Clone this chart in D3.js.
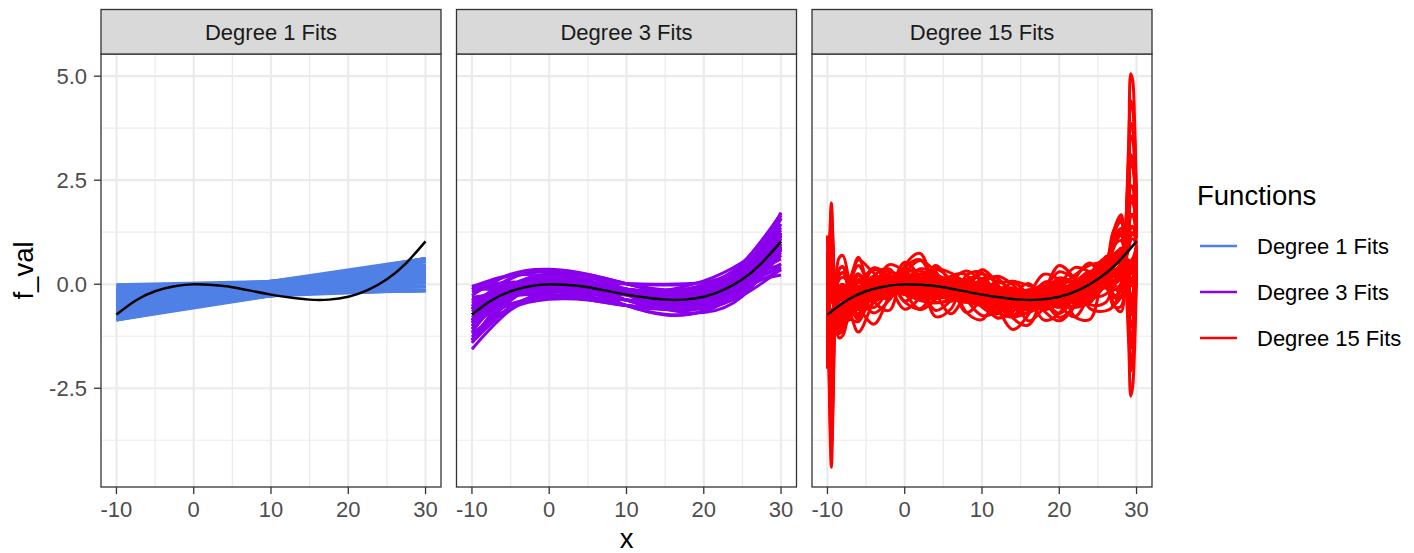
<!DOCTYPE html>
<html>
<head>
<meta charset="utf-8">
<script src="https://cdn.jsdelivr.net/npm/d3@7"></script>
<style>
  body { margin: 0; background: #ffffff; }
  svg { display: block; }
  text { font-family: "Liberation Sans", Arial, Helvetica, sans-serif; }
</style>
</head>
<body>
<svg id="chart" width="1414" height="553"></svg>
<script>
// ---- data -------------------------------------------------------------
const panelTitles = ["Degree 1 Fits", "Degree 3 Fits", "Degree 15 Fits"];
const seriesColors = ["#5080E6", "#8B00EC", "#FF0000"];

const xTicks = [-10, 0, 10, 20, 30];
const xTickLabels = ["-10", "0", "10", "20", "30"];
const xMinorTicks = [-5, 5, 15, 25];
const yTicks = [-2.5, 0, 2.5, 5];
const yTickLabels = ["-2.5", "0.0", "2.5", "5.0"];
const yMinorTicks = [-3.75, -1.25, 1.25, 3.75];

// true function
const truthX = [-10, -7.5, -5, -2.5, 0, 2.5, 5, 7.5, 10, 12.5, 15, 17.5, 20, 22.5, 25, 27.5, 30];
const truthY = [-0.73, -0.39, -0.17, -0.05, 0.00, -0.02, -0.07, -0.16, -0.25, -0.32, -0.37, -0.37, -0.30, -0.14, 0.12, 0.51, 1.03];

// degree 1 fits: value at x = -10 and x = 30
const deg1X = [-10, 30];
const deg1Fits = [
  [-0.42,-0.14],[-0.52,-0.04],[-0.62,0.06],[-0.72,0.16],[-0.82,0.26],[-0.86,0.30],
  [-0.28,-0.16],[-0.38,-0.06],[-0.48,0.04],[-0.58,0.14],[-0.68,0.24],[-0.78,0.34],[-0.86,0.42],
  [-0.16,-0.16],[-0.26,-0.06],[-0.36,0.04],[-0.46,0.14],[-0.56,0.24],[-0.66,0.34],[-0.76,0.44],[-0.86,0.54],
  [-0.06,-0.14],[-0.16,-0.04],[-0.26,0.06],[-0.36,0.16],[-0.46,0.26],[-0.56,0.36],[-0.66,0.46],[-0.76,0.56],[-0.82,0.62],
  [-0.04,-0.04],[-0.14,0.06],[-0.24,0.16],[-0.34,0.26],[-0.44,0.36],[-0.54,0.46],[-0.64,0.56],[-0.70,0.62],
  [-0.02,0.06],[-0.12,0.16],[-0.22,0.26],[-0.32,0.36],[-0.42,0.46],[-0.52,0.56],[-0.58,0.62],
  [-0.01,0.15],[-0.11,0.25],[-0.21,0.35],[-0.31,0.45],[-0.41,0.55],[-0.48,0.62],
  [-0.35,-0.15],[-0.65,0.15],[-0.80,0.30],[-0.21,-0.05],[-0.51,0.25],[-0.71,0.45],[-0.19,0.05],[-0.49,0.35],[-0.76,0.62]
];

// degree 3 fits sampled every 5 units
const deg3X = [-10, -5, 0, 5, 10, 15, 20, 25, 30];
const deg3Fits = [
  [-0.73,-0.17,0.00,-0.07,-0.25,-0.37,-0.30,0.12,1.03],
  [-0.60,-0.04,0.13,0.06,-0.12,-0.24,-0.17,0.25,1.16],
  [-0.86,-0.30,-0.13,-0.20,-0.38,-0.50,-0.43,-0.01,0.90],
  [-0.93,-0.32,-0.10,-0.12,-0.25,-0.32,-0.20,0.27,1.23],
  [-0.53,-0.02,0.10,-0.02,-0.25,-0.42,-0.40,-0.03,0.83],
  [-0.46,-0.08,-0.03,-0.17,-0.38,-0.47,-0.33,0.21,1.30],
  [-1.00,-0.26,0.03,0.03,-0.12,-0.27,-0.27,0.03,0.76],
  [-0.94,-0.15,0.09,0.00,-0.25,-0.44,-0.39,0.10,1.24],
  [-0.52,-0.19,-0.09,-0.14,-0.25,-0.30,-0.21,0.14,0.82],
  [-0.80,-0.19,0.03,0.01,-0.12,-0.19,-0.07,0.40,1.36],
  [-0.66,-0.15,-0.03,-0.15,-0.38,-0.55,-0.53,-0.16,0.70],
  [-0.13,0.20,0.20,0.01,-0.25,-0.39,-0.30,0.19,1.23],
  [-1.33,-0.54,-0.20,-0.15,-0.25,-0.35,-0.30,0.05,0.83],
  [-0.87,-0.21,-0.04,-0.15,-0.38,-0.49,-0.32,0.34,1.71],
  [-0.59,-0.13,0.04,0.01,-0.12,-0.25,-0.28,-0.10,0.35],
  [-1.08,-0.11,0.25,0.23,0.01,-0.21,-0.23,0.14,1.10],
  [-0.38,-0.23,-0.25,-0.37,-0.51,-0.53,-0.37,0.10,0.96],
  [-0.12,0.03,0.01,-0.11,-0.25,-0.27,-0.11,0.36,1.22],
  [-1.34,-0.37,-0.01,-0.03,-0.25,-0.47,-0.49,-0.12,0.84],
  [-0.92,-0.49,-0.29,-0.24,-0.25,-0.20,-0.01,0.44,1.22],
  [-0.54,0.15,0.29,0.10,-0.25,-0.54,-0.59,-0.20,0.84],
  [-0.61,0.13,0.32,0.18,-0.12,-0.36,-0.36,0.08,1.17],
  [-0.85,-0.47,-0.32,-0.32,-0.38,-0.38,-0.24,0.16,0.89],
  [-0.19,0.01,-0.06,-0.27,-0.51,-0.57,-0.36,0.30,1.57],
  [-1.27,-0.35,0.06,0.13,0.01,-0.17,-0.24,-0.06,0.49],
  [-0.86,-0.30,-0.03,0.04,0.01,-0.02,0.05,0.33,0.88],
  [-0.60,-0.04,0.03,-0.18,-0.51,-0.72,-0.65,-0.09,1.18],
  [-1.35,-0.28,0.08,0.02,-0.25,-0.46,-0.38,0.23,1.65],
  [-0.11,-0.06,-0.08,-0.16,-0.25,-0.28,-0.22,0.01,0.41],
  [-0.27,0.24,0.36,0.24,0.01,-0.16,-0.14,0.23,1.09],
  [-1.19,-0.58,-0.36,-0.38,-0.51,-0.58,-0.46,0.01,0.97],
  [-0.45,-0.17,-0.02,0.02,0.01,0.00,0.04,0.20,0.47],
  [-1.01,-0.17,0.02,-0.16,-0.51,-0.74,-0.64,0.04,1.59],
  [-1.40,-0.56,-0.17,-0.07,-0.12,-0.17,-0.07,0.33,1.16],
  [-0.06,0.22,0.17,-0.07,-0.38,-0.57,-0.53,-0.09,0.90],
  [-0.11,-0.14,-0.18,-0.23,-0.25,-0.15,0.08,0.53,1.21],
  [-1.35,-0.20,0.18,0.09,-0.25,-0.59,-0.68,-0.29,0.85],
  [-0.88,-0.04,0.25,0.21,0.01,-0.13,-0.03,0.51,1.70],
  [-0.58,-0.30,-0.25,-0.35,-0.51,-0.61,-0.57,-0.27,0.36],
  [-0.88,-0.04,0.15,-0.03,-0.38,-0.61,-0.51,0.17,1.72],
  [-1.56,-0.62,-0.22,-0.10,-0.18,-0.30,-0.28,0.08,0.95],
  [-0.40,-0.02,0.08,0.02,-0.12,-0.24,-0.20,0.02,0.22],
  [-1.15,-0.13,0.18,0.07,-0.25,-0.51,-0.48,0.08,1.45],
  [-0.31,-0.21,-0.18,-0.21,-0.25,-0.23,-0.12,0.16,0.61],
  [-0.39,-0.06,0.04,-0.01,-0.12,-0.17,-0.08,0.27,0.95],
  [-1.07,-0.28,-0.04,-0.13,-0.38,-0.57,-0.52,-0.03,1.11],
  [-1.41,-0.39,0.02,0.05,-0.12,-0.29,-0.26,0.16,1.17],
  [-0.05,0.05,-0.02,-0.19,-0.38,-0.45,-0.34,0.08,0.89]
];

// degree 15 fits, sampled more densely near the ends of the range
const deg15X = [-10, -9.75, -9.5, -9.25, -9, -8.5, -8, -7,
  -6, -4, -2, 0, 2, 4, 6, 8, 10, 12, 14, 16, 18, 20, 22, 24, 26,
  27, 28, 28.5, 29, 29.25, 29.5, 29.75, 30];
const deg15Fits = [
  [-2.03,0.61,1.95,0.81,-0.71,-1.29,-1.23,-0.45, 0.05,-0.21,-0.23,0.15,0.24,-0.10,-0.31,-0.18,-0.05,-0.21,-0.51,-0.58,-0.31,-0.05,-0.08,-0.19,-0.04, -0.48,-0.30,0.85,2.75,3.86,3.76,3.07,1.63],
  [1.17,-2.59,-4.40,-2.71,-0.39,0.63,0.69,-0.06, -0.45,0.09,0.22,-0.05,-0.26,-0.15,0.09,0.07,-0.30,-0.51,-0.46,-0.23,-0.16,-0.35,-0.43,-0.04,0.51, 0.92,1.05,0.63,-0.18,-0.64,-0.52,-0.08,0.73],
  [-1.33,-0.09,0.55,0.04,-0.64,-0.87,-0.81,-0.41, -0.15,0.19,0.02,-0.25,-0.11,0.20,0.04,-0.38,-0.50,-0.26,-0.11,-0.28,-0.56,-0.45,0.02,0.31,0.16, 0.17,0.36,0.74,1.32,1.66,1.67,1.53,1.19],
  [0.02,-1.44,-2.15,-1.45,-0.51,-0.06,0.00,-0.37, -0.60,-0.16,0.17,0.10,-0.16,-0.25,-0.06,0.02,-0.15,-0.46,-0.61,-0.38,-0.11,-0.15,-0.33,-0.24,0.36, 1.02,1.26,0.59,-0.63,-1.34,-1.18,-0.57,0.59],
  [-1.13,-0.29,0.15,-0.18,-0.62,-0.75,-0.69,-0.40, -0.20,-0.36,-0.13,0.20,0.04,-0.30,-0.16,0.07,-0.20,-0.51,-0.41,-0.13,-0.26,-0.50,-0.28,0.26,0.61, -0.46,-0.66,0.91,3.53,5.06,4.90,3.91,1.87],
  [-0.43,-0.99,-1.25,-0.95,-0.55,-0.33,-0.27,-0.06, 0.20,0.04,-0.13,-0.05,0.14,0.05,-0.26,-0.28,-0.10,-0.11,-0.41,-0.58,-0.36,-0.10,-0.13,-0.14,0.31, 0.60,0.78,0.67,0.41,0.26,0.34,0.55,0.91],
  [-0.93,-0.49,-0.25,-0.40,-0.60,-0.63,-0.57,-0.53, -0.55,-0.01,0.17,-0.15,-0.26,0.00,0.09,-0.18,-0.45,-0.41,-0.21,-0.18,-0.41,-0.55,-0.28,0.21,0.56, 0.20,0.15,0.78,1.78,2.36,2.34,2.02,1.33],
  [-0.58,-0.84,-0.95,-0.79,-0.57,-0.42,-0.36,-0.21, -0.05,-0.31,-0.28,0.05,0.24,0.05,-0.31,-0.43,-0.20,-0.11,-0.26,-0.53,-0.56,-0.25,0.07,0.06,0.01, 0.52,0.87,0.66,0.22,-0.04,0.06,0.34,0.85],
  [-1.63,0.21,1.15,0.37,-0.67,-1.05,-0.99,-0.57, -0.35,-0.41,-0.08,0.25,0.09,-0.30,-0.26,0.02,0.00,-0.36,-0.61,-0.48,-0.16,-0.15,-0.38,-0.29,0.36, 0.35,0.45,0.73,1.13,1.36,1.39,1.32,1.13],
  [0.47,-1.89,-3.05,-1.94,-0.46,0.21,0.27,0.08, 0.10,-0.06,-0.23,-0.10,0.14,0.15,-0.16,-0.38,-0.35,-0.16,-0.11,-0.38,-0.61,-0.45,-0.03,0.26,0.16, 1.26,1.67,0.52,-1.51,-2.69,-2.46,-1.52,0.32],
  [-1.03,-0.39,-0.05,-0.29,-0.61,-0.69,-0.63,-0.43, -0.30,0.14,0.07,-0.20,-0.06,0.20,-0.06,-0.43,-0.30,-0.11,-0.31,-0.63,-0.46,-0.10,-0.08,-0.24,-0.09, -0.31,-0.06,0.81,2.23,3.06,3.00,2.51,1.47],
  [-0.28,-1.14,-1.55,-1.12,-0.54,-0.24,-0.18,-0.48, -0.70,-0.26,0.07,0.05,-0.16,-0.15,0.04,-0.08,-0.40,-0.51,-0.31,-0.18,-0.36,-0.50,-0.23,0.16,0.21, 0.50,0.72,0.68,0.54,0.46,0.53,0.69,0.95],
  [-0.78,-0.44,-0.25,-0.35,-0.49,-0.50,-0.44,0.08, 0.45,-0.21,-0.33,0.40,0.59,-0.05,-0.41,-0.08,0.25,-0.01,-0.56,-0.68,-0.16,0.30,0.12,-0.29,-0.24, 0.02,0.40,0.85,1.55,1.96,1.96,1.77,1.33],
  [-0.73,-0.89,-0.95,-0.83,-0.67,-0.55,-0.49,-0.37, -0.15,0.39,-0.03,-0.60,-0.31,0.35,0.09,-0.68,-0.85,-0.31,0.04,-0.28,-0.86,-0.70,0.12,0.51,-0.04, 0.47,0.86,0.54,-0.08,-0.44,-0.33,0.03,0.69],
  [-1.23,-0.19,0.35,-0.07,-0.63,-0.81,-0.75,-0.49, -0.35,0.39,0.17,-0.40,-0.11,0.45,-0.01,-0.68,-0.35,0.09,-0.26,-0.88,-0.56,0.10,0.02,-0.49,-0.44, 0.00,0.51,0.72,1.00,1.16,1.20,1.18,1.09],
  [-0.23,-1.39,-1.95,-1.38,-0.62,-0.25,-0.19,-0.57, -0.75,0.19,0.37,-0.20,-0.61,-0.35,0.19,0.22,-0.45,-0.81,-0.66,-0.18,-0.06,-0.50,-0.78,-0.19,0.66, 0.70,0.71,0.57,0.25,0.06,0.15,0.38,0.79],
  [-0.88,-0.34,-0.05,-0.25,-0.51,-0.56,-0.50,-0.59, -0.85,-0.11,0.47,0.30,-0.21,-0.35,0.09,0.32,0.05,-0.51,-0.76,-0.28,0.24,0.10,-0.38,-0.39,0.56, 0.02,-0.08,0.93,2.59,3.56,3.48,2.89,1.65],
  [-0.38,-1.04,-1.35,-1.01,-0.55,-0.30,-0.24,-0.72, -1.15,-0.41,0.17,0.10,-0.31,-0.25,0.19,0.02,-0.55,-0.71,-0.26,0.02,-0.36,-0.70,-0.28,0.31,0.16, 0.85,1.17,0.61,-0.44,-1.04,-0.90,-0.36,0.65],
  [-1.53,0.51,1.55,0.68,-0.48,-0.91,-0.85,-0.24, 0.10,0.04,0.07,0.28,0.32,0.13,-0.01,0.02,0.05,-0.06,-0.24,-0.28,-0.14,0.03,0.07,0.11,0.31, 0.50,0.62,0.93,1.39,1.66,1.68,1.59,1.35],
  [-0.43,-1.39,-1.85,-1.37,-0.73,-0.41,-0.35,-0.49, -0.55,-0.21,-0.11,-0.23,-0.34,-0.30,-0.21,-0.26,-0.48,-0.61,-0.61,-0.51,-0.46,-0.53,-0.51,-0.22,0.19, 0.26,0.49,0.49,0.41,0.36,0.43,0.56,0.77],
  [-0.53,-0.29,-0.15,-0.21,-0.29,-0.27,-0.21,-0.03, 0.10,0.34,0.30,0.18,0.24,0.38,0.27,0.02,-0.08,0.02,0.07,-0.03,-0.16,-0.08,0.22,0.46,0.51, 0.24,0.36,1.09,2.27,2.96,2.92,2.53,1.69],
  [-0.83,-1.19,-1.35,-1.14,-0.86,-0.69,-0.63,-0.69, -0.73,-0.44,-0.23,-0.25,-0.39,-0.45,-0.39,-0.38,-0.50,-0.69,-0.79,-0.68,-0.54,-0.53,-0.56,-0.42,0.01, 0.42,0.60,0.35,-0.15,-0.44,-0.34,-0.03,0.53],
  [-1.33,0.11,0.85,0.25,-0.55,-0.83,-0.77,-0.37, -0.13,-0.14,0.02,0.20,0.12,-0.08,-0.04,0.05,-0.13,-0.31,-0.29,-0.16,-0.21,-0.30,-0.13,0.24,0.54, -0.24,-0.32,0.97,3.11,4.36,4.24,3.45,1.81],
  [0.07,-1.69,-2.55,-1.71,-0.59,-0.07,-0.01,-0.20, -0.13,-0.14,-0.18,-0.13,-0.04,-0.10,-0.29,-0.33,-0.28,-0.31,-0.49,-0.58,-0.46,-0.30,-0.26,-0.17,0.19, 0.41,0.65,0.58,0.38,0.26,0.34,0.52,0.83],
  [-1.38,-0.44,0.05,-0.33,-0.83,-0.98,-0.92,-0.85, -0.90,-0.16,0.07,-0.43,-0.59,-0.18,-0.01,-0.38,-0.75,-0.66,-0.34,-0.28,-0.64,-0.88,-0.53,0.11,0.51, 0.24,0.28,0.52,0.86,1.06,1.09,1.05,0.91],
  [-0.28,-0.74,-0.95,-0.70,-0.36,-0.16,-0.10,0.06, 0.25,-0.21,-0.21,0.28,0.57,0.30,-0.21,-0.36,0.03,0.19,-0.01,-0.41,-0.46,-0.03,0.40,0.29,0.09, 1.18,1.58,0.77,-0.69,-1.54,-1.36,-0.65,0.71],
  [-0.88,-0.54,-0.35,-0.46,-0.60,-0.60,-0.54,-0.45, -0.40,-0.56,-0.11,0.38,0.14,-0.43,-0.34,0.12,0.13,-0.39,-0.74,-0.53,-0.06,-0.08,-0.48,-0.44,0.41, 0.20,0.24,0.76,1.58,2.06,2.05,1.81,1.27],
  [0.72,-2.14,-3.55,-2.22,-0.44,0.36,0.42,-0.31, -0.78,-0.19,0.27,0.15,-0.24,-0.35,-0.04,0.12,-0.10,-0.54,-0.74,-0.38,0.02,-0.08,-0.41,-0.37,0.41, 0.70,0.84,0.66,0.28,0.06,0.15,0.41,0.87],
  [-1.28,-0.54,-0.15,-0.44,-0.82,-0.92,-0.86,-0.67, -0.38,-0.69,-0.38,0.10,-0.14,-0.63,-0.39,-0.01,-0.38,-0.81,-0.64,-0.21,-0.41,-0.80,-0.53,0.19,0.59, 0.21,0.19,0.54,1.06,1.36,1.38,1.26,0.97],
  [-0.43,-0.69,-0.80,-0.64,-0.42,-0.27,-0.21,0.18, 0.58,0.27,-0.03,0.08,0.37,0.25,-0.19,-0.18,0.13,0.14,-0.29,-0.53,-0.21,0.15,0.05,-0.07,0.49, 1.03,1.17,0.78,0.04,-0.39,-0.27,0.14,0.90],
  [-1.28,-0.14,0.45,-0.02,-0.64,-0.84,-0.78,0.00, 0.65,-0.41,-0.63,0.45,0.74,-0.20,-0.71,-0.18,0.35,-0.01,-0.81,-0.98,-0.21,0.45,0.12,-0.59,-0.64, -0.53,0.00,0.80,2.10,2.86,2.81,2.37,1.43],
  [-0.43,-1.19,-1.55,-1.16,-0.64,-0.37,-0.31,-0.54, -0.60,-0.96,-0.26,0.53,0.14,-0.78,-0.59,0.22,0.28,-0.54,-1.09,-0.73,0.04,-0.03,-0.78,-0.84,0.41, 0.45,0.56,0.59,0.57,0.56,0.62,0.73,0.89],
  [-1.78,0.46,1.60,0.64,-0.64,-1.12,-1.06,-0.55, -0.32,0.06,0.17,0.02,-0.11,-0.06,0.06,0.02,-0.23,-0.38,-0.37,-0.24,-0.19,-0.28,-0.28,0.03,0.46, 1.27,1.49,0.61,-0.97,-1.89,-1.70,-0.94,0.52],
  [0.52,-2.04,-3.30,-2.10,-0.50,0.22,0.28,-0.26, -0.51,-0.19,0.04,0.01,-0.15,-0.22,-0.13,-0.11,-0.24,-0.45,-0.56,-0.43,-0.26,-0.26,-0.32,-0.19,0.27, -0.53,-0.53,0.83,3.09,4.41,4.28,3.44,1.70],
  [-0.18,-1.44,-2.05,-1.44,-0.62,-0.22,-0.16,-0.30, -0.23,-0.25,-0.21,-0.04,-0.01,-0.17,-0.29,-0.28,-0.27,-0.37,-0.52,-0.56,-0.44,-0.30,-0.24,-0.17,0.04, -0.14,0.02,0.68,1.74,2.36,2.33,1.99,1.25],
  [-1.08,-0.14,0.35,-0.03,-0.53,-0.68,-0.62,-0.26, -0.11,0.11,0.09,0.00,0.05,0.15,0.05,-0.16,-0.25,-0.19,-0.16,-0.24,-0.34,-0.26,0.00,0.23,0.32, 0.98,1.21,0.72,-0.21,-0.74,-0.61,-0.12,0.79],
  [-1.68,-0.04,0.80,0.11,-0.81,-1.14,-1.08,-0.71, -0.38,-0.39,-0.23,-0.05,-0.14,-0.33,-0.29,-0.21,-0.38,-0.56,-0.54,-0.41,-0.46,-0.55,-0.38,-0.02,0.29, -0.32,-0.27,0.67,2.21,3.11,3.04,2.50,1.36],
  [0.27,-1.59,-2.50,-1.62,-0.44,0.11,0.17,0.04, 0.03,0.02,-0.03,0.03,0.12,0.05,-0.14,-0.18,-0.13,-0.16,-0.34,-0.43,-0.31,-0.15,-0.11,-0.02,0.34, 1.09,1.34,0.64,-0.65,-1.39,-1.23,-0.59,0.62],
  [-0.88,-0.34,-0.05,-0.25,-0.51,-0.56,-0.50,-0.33, -0.33,0.05,0.19,0.01,-0.06,0.08,0.11,-0.08,-0.27,-0.27,-0.17,-0.16,-0.29,-0.35,-0.14,0.23,0.54, -0.07,-0.17,0.95,2.79,3.86,3.77,3.10,1.71],
  [0.77,-2.39,-3.95,-2.48,-0.52,0.35,0.41,-0.11, -0.23,-0.33,-0.28,-0.07,0.04,-0.09,-0.33,-0.43,-0.32,-0.29,-0.40,-0.57,-0.58,-0.37,-0.13,-0.06,0.01, 0.47,0.83,0.55,-0.02,-0.34,-0.24,0.10,0.71],
  [-0.93,-0.49,-0.25,-0.40,-0.60,-0.63,-0.57,-0.41, -0.30,-0.26,-0.06,0.13,0.04,-0.18,-0.19,-0.08,-0.13,-0.34,-0.49,-0.43,-0.26,-0.23,-0.28,-0.14,0.31, 0.57,0.75,0.68,0.48,0.36,0.44,0.62,0.93],
  [-0.18,-0.94,-1.30,-0.91,-0.39,-0.12,-0.06,-0.02, 0.08,0.07,0.02,0.10,0.22,0.20,0.02,-0.13,-0.15,-0.09,-0.09,-0.23,-0.34,-0.23,0.05,0.29,0.36, 0.27,0.42,0.91,1.67,2.11,2.11,1.89,1.40],
  [-1.88,0.56,1.80,0.75,-0.65,-1.18,-1.12,-0.52, -0.23,0.07,0.07,-0.05,0.02,0.13,-0.04,-0.26,-0.23,-0.16,-0.29,-0.46,-0.36,-0.15,-0.08,-0.07,0.14, 1.16,1.55,0.60,-1.10,-2.09,-1.89,-1.08,0.48],
  [-1.48,-0.14,0.55,-0.01,-0.75,-1.00,-0.94,-0.73, -0.58,-0.29,-0.08,-0.08,-0.19,-0.20,-0.14,-0.23,-0.43,-0.51,-0.44,-0.38,-0.46,-0.50,-0.31,-0.02,0.14, 0.04,0.23,0.65,1.29,1.66,1.67,1.50,1.11],
  [-0.48,-0.94,-1.15,-0.90,-0.56,-0.36,-0.30,-0.25, -0.16,-0.14,-0.09,0.05,0.07,-0.07,-0.17,-0.18,-0.19,-0.28,-0.41,-0.44,-0.35,-0.23,-0.15,-0.05,0.17, 0.53,0.78,0.67,0.41,0.26,0.34,0.55,0.91],
  [-1.08,-0.44,-0.10,-0.34,-0.66,-0.74,-0.68,-0.46, -0.27,-0.07,-0.07,-0.13,-0.09,-0.03,-0.12,-0.29,-0.38,-0.35,-0.34,-0.40,-0.47,-0.40,-0.17,0.05,0.18, 0.01,0.16,0.72,1.60,2.11,2.10,1.83,1.24],
  [-0.08,-1.14,-1.65,-1.13,-0.43,-0.08,-0.02,-0.07, -0.14,-0.09,0.04,0.16,0.11,-0.03,-0.03,0.00,-0.14,-0.27,-0.28,-0.21,-0.23,-0.26,-0.11,0.19,0.47, 1.02,1.18,0.72,-0.14,-0.64,-0.51,-0.05,0.81],
  [-0.98,-0.74,-0.60,-0.66,-0.74,-0.72,-0.66,-0.52, -0.27,-0.22,-0.21,-0.17,-0.12,-0.17,-0.31,-0.36,-0.36,-0.40,-0.53,-0.59,-0.51,-0.39,-0.32,-0.19,0.13, 0.08,0.30,0.58,0.98,1.21,1.24,1.17,0.98]
];

// ---- layout -------------------------------------------------------------
const svg = d3.select("#chart");
const panelLeft = [101, 456.5, 812];
const panelWidth = 340;
const panelTop = 54;
const panelBottom = 487;
const stripTop = 9.5;
const tickLen = 7;
const smallFont = 22;
const titleFont = 27.5;

const panels = [
  { xs: deg1X, fits: deg1Fits, curve: d3.curveLinear },
  { xs: deg3X, fits: deg3Fits, curve: d3.curveNatural },
  { xs: deg15X, fits: deg15Fits, curve: d3.curveCatmullRom.alpha(0.5) }
];

// shared scales (ggplot style 5% expansion)
const [xLo, xHi] = d3.extent(truthX);
const xPad = (xHi - xLo) * 0.05;
const allY = truthY.concat(deg1Fits.flat(), deg3Fits.flat(), deg15Fits.flat());
const [yLo, yHi] = d3.extent(allY);
const yPad = (yHi - yLo) * 0.05;
const y = d3.scaleLinear().domain([yLo - yPad, yHi + yPad]).range([panelBottom, panelTop]);

const defs = svg.append("defs");

panels.forEach((p, i) => {
  const left = panelLeft[i];
  const x = d3.scaleLinear().domain([xLo - xPad, xHi + xPad]).range([left, left + panelWidth]);
  const g = svg.append("g");

  // background grid
  const grid = g.append("g");
  grid.selectAll(".vminor").data(xMinorTicks).join("line")
    .attr("x1", d => x(d)).attr("x2", d => x(d))
    .attr("y1", panelTop).attr("y2", panelBottom)
    .attr("stroke", "#EBEBEB").attr("stroke-width", 1.2);
  grid.selectAll(".hminor").data(yMinorTicks).join("line")
    .attr("x1", left).attr("x2", left + panelWidth)
    .attr("y1", d => y(d)).attr("y2", d => y(d))
    .attr("stroke", "#EBEBEB").attr("stroke-width", 1.2);
  grid.selectAll(".vmajor").data(xTicks).join("line")
    .attr("x1", d => x(d)).attr("x2", d => x(d))
    .attr("y1", panelTop).attr("y2", panelBottom)
    .attr("stroke", "#EBEBEB").attr("stroke-width", 2.2);
  grid.selectAll(".hmajor").data(yTicks).join("line")
    .attr("x1", left).attr("x2", left + panelWidth)
    .attr("y1", d => y(d)).attr("y2", d => y(d))
    .attr("stroke", "#EBEBEB").attr("stroke-width", 2.2);

  // clip lines to panel
  const clipId = "clip" + i;
  defs.append("clipPath").attr("id", clipId).append("rect")
    .attr("x", left).attr("y", panelTop).attr("width", panelWidth).attr("height", panelBottom - panelTop);

  const line = d3.line().x(d => x(d[0])).y(d => y(d[1])).curve(p.curve);
  const lines = g.append("g").attr("clip-path", `url(#${clipId})`);
  lines.selectAll("path.fit").data(p.fits).join("path")
    .attr("class", "fit")
    .attr("d", vals => line(vals.map((v, k) => [p.xs[k], v])))
    .attr("fill", "none")
    .attr("stroke", seriesColors[i])
    .attr("stroke-width", 3)
    .attr("stroke-linejoin", "round");

  const truthLine = d3.line().x(d => x(d[0])).y(d => y(d[1])).curve(d3.curveNatural);
  lines.append("path")
    .attr("d", truthLine(truthX.map((v, k) => [v, truthY[k]])))
    .attr("fill", "none").attr("stroke", "#000000").attr("stroke-width", 2.5);

  // panel border
  g.append("rect").attr("x", left).attr("y", panelTop)
    .attr("width", panelWidth).attr("height", panelBottom - panelTop)
    .attr("fill", "none").attr("stroke", "#333333").attr("stroke-width", 1.3);

  // strip
  g.append("rect").attr("x", left).attr("y", stripTop)
    .attr("width", panelWidth).attr("height", panelTop - stripTop)
    .attr("fill", "#D9D9D9").attr("stroke", "#333333").attr("stroke-width", 1.3);
  g.append("text").attr("x", left + panelWidth / 2).attr("y", 40)
    .attr("text-anchor", "middle").attr("font-size", smallFont).attr("fill", "#1A1A1A")
    .text(panelTitles[i]);

  // x axis
  const xa = g.append("g");
  xa.selectAll("line").data(xTicks).join("line")
    .attr("x1", d => x(d)).attr("x2", d => x(d))
    .attr("y1", panelBottom).attr("y2", panelBottom + tickLen)
    .attr("stroke", "#333333").attr("stroke-width", 1.3);
  xa.selectAll("text").data(xTicks).join("text")
    .attr("x", d => x(d)).attr("y", 517)
    .attr("text-anchor", "middle").attr("font-size", smallFont).attr("fill", "#4D4D4D")
    .text((d, k) => xTickLabels[k]);

  // y axis on first panel
  if (i === 0) {
    const ya = g.append("g");
    ya.selectAll("line").data(yTicks).join("line")
      .attr("x1", left - tickLen).attr("x2", left)
      .attr("y1", d => y(d)).attr("y2", d => y(d))
      .attr("stroke", "#333333").attr("stroke-width", 1.3);
    ya.selectAll("text").data(yTicks).join("text")
      .attr("x", left - 14).attr("y", d => y(d) + 8)
      .attr("text-anchor", "end").attr("font-size", smallFont).attr("fill", "#4D4D4D")
      .text((d, k) => yTickLabels[k]);
  }
});

// axis titles
svg.append("text")
  .attr("transform", `translate(33,${(panelTop + panelBottom) / 2}) rotate(-90)`)
  .attr("text-anchor", "middle").attr("font-size", titleFont).attr("fill", "#000")
  .text("f_val");
svg.append("text")
  .attr("x", (panelLeft[0] + panelLeft[2] + panelWidth) / 2).attr("y", 548)
  .attr("text-anchor", "middle").attr("font-size", titleFont).attr("fill", "#000")
  .text("x");

// legend
const legend = svg.append("g");
legend.append("text").attr("x", 1197).attr("y", 205)
  .attr("font-size", titleFont).attr("fill", "#000").text("Functions");
const keyY = [246, 292, 338];
panelTitles.forEach((name, i) => {
  legend.append("line")
    .attr("x1", 1200).attr("x2", 1237).attr("y1", keyY[i]).attr("y2", keyY[i])
    .attr("stroke", seriesColors[i]).attr("stroke-width", 2.5);
  legend.append("text").attr("x", 1257).attr("y", keyY[i] + 8)
    .attr("font-size", smallFont).attr("fill", "#000").text(name);
});
</script>
</body>
</html>
